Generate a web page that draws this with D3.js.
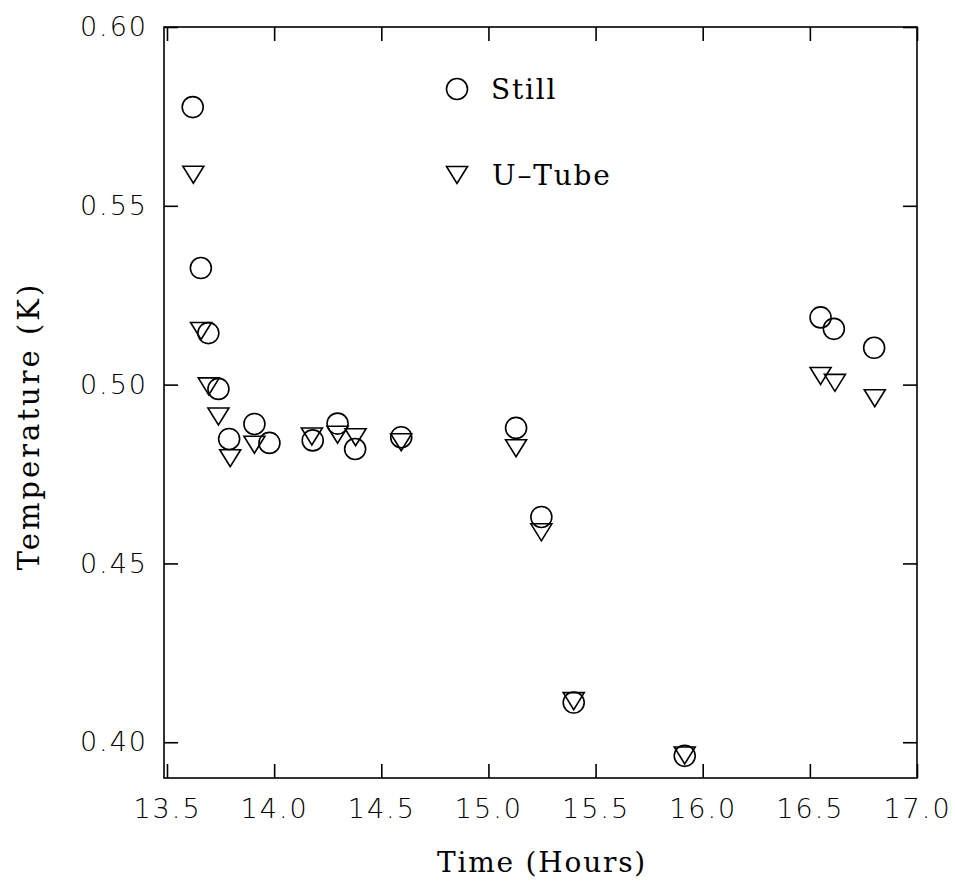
<!DOCTYPE html>
<html>
<head>
<meta charset="utf-8">
<script src="https://cdn.jsdelivr.net/npm/d3@7"></script>
<style>
  html, body { margin: 0; padding: 0; background: #fff; }
  svg { display: block; }
  .tick text { font-family: "DejaVu Sans", sans-serif; font-weight: 200; font-size: 27px; letter-spacing: 2px; fill: #000; }
  .title { font-family: "DejaVu Serif", serif; font-size: 28px; letter-spacing: 1.8px; fill: #000; }
  .ytitle { font-size: 29px; letter-spacing: 3px; }
</style>
</head>
<body>
<svg id="chart" width="955" height="884"></svg>
<script>
// ---- data ----
const stillTime = [13.62, 13.658, 13.693, 13.74, 13.79, 13.908, 13.978, 14.18, 14.296, 14.378, 14.593, 15.129, 15.247, 15.398, 15.916, 16.55, 16.612, 16.80];
const stillTemp = [0.5776, 0.5326, 0.5144, 0.4988, 0.4848, 0.4890, 0.4837, 0.4844, 0.4891, 0.4820, 0.4853, 0.4879, 0.4630, 0.4111, 0.3962, 0.5188, 0.5156, 0.5103];
const utubeTime = [13.623, 13.659, 13.695, 13.74, 13.795, 13.908, 14.176, 14.296, 14.38, 14.593, 15.129, 15.247, 15.398, 15.916, 16.55, 16.617, 16.803];
const utubeTemp = [0.5587, 0.5150, 0.4995, 0.4911, 0.4794, 0.4832, 0.4855, 0.4860, 0.4853, 0.4839, 0.4822, 0.4587, 0.4115, 0.3963, 0.5024, 0.5005, 0.4962];
const xTicks = [13.5, 14.0, 14.5, 15.0, 15.5, 16.0, 16.5, 17.0];
const yTicks = [0.40, 0.45, 0.50, 0.55, 0.60];
const seriesNames = ["Still", "U\u2013Tube"];
const xTitle = "Time (Hours)";
const yTitle = "Temperature (K)";

const svg = d3.select("#chart");
const L = 164, R = 917, T = 27, B = 778;
const x = d3.scaleLinear().domain([13.486, 17.0]).range([L, R]);
const y = d3.scaleLinear().domain([0.39, 0.60]).range([B, T]);

const TK = 14;
function styleAxis(g) {
  g.select(".domain").remove();
  g.selectAll(".tick line").attr("stroke", "#000").attr("stroke-width", 1.6);
}
svg.append("g").attr("transform", `translate(${L},0)`)
  .call(d3.axisLeft(y).tickValues(yTicks).tickFormat(d3.format(".2f")).tickSizeInner(-TK).tickSizeOuter(0).tickPadding(16))
  .call(styleAxis);
svg.append("g").attr("transform", `translate(${R},0)`)
  .call(d3.axisRight(y).tickValues(yTicks).tickFormat("").tickSizeInner(-TK).tickSizeOuter(0))
  .call(styleAxis);
svg.append("g").attr("transform", `translate(0,${B})`)
  .call(d3.axisBottom(x).tickValues(xTicks).tickFormat(d3.format(".1f")).tickSizeInner(-TK).tickSizeOuter(0).tickPadding(21))
  .call(styleAxis);
svg.append("g").attr("transform", `translate(0,${T})`)
  .call(d3.axisTop(x).tickValues(xTicks).tickFormat("").tickSizeInner(-TK).tickSizeOuter(0))
  .call(styleAxis);

// frame
svg.append("rect").attr("x", L).attr("y", T).attr("width", R - L).attr("height", B - T)
  .attr("fill", "none").attr("stroke", "#000").attr("stroke-width", 1.6);

// markers
const rC = 10.5;
const triW = 21, triH = 17;
function triPath(cx, cy) {
  return `M${cx - triW / 2},${cy - triH / 2}L${cx + triW / 2},${cy - triH / 2}L${cx},${cy + triH / 2}Z`;
}
const still = stillTime.map((t, i) => ({ t, v: stillTemp[i] }));
const utube = utubeTime.map((t, i) => ({ t, v: utubeTemp[i] }));

svg.append("g").selectAll("circle").data(still).join("circle")
  .attr("cx", d => x(d.t)).attr("cy", d => y(d.v)).attr("r", rC)
  .attr("fill", "none").attr("stroke", "#000").attr("stroke-width", 1.6);
svg.append("g").selectAll("path").data(utube).join("path")
  .attr("d", d => triPath(x(d.t), y(d.v)))
  .attr("fill", "none").attr("stroke", "#000").attr("stroke-width", 1.6).attr("stroke-linejoin", "miter");

// legend
const lg = svg.append("g");
lg.append("circle").attr("cx", 457).attr("cy", 89).attr("r", rC)
  .attr("fill", "none").attr("stroke", "#000").attr("stroke-width", 1.6);
lg.append("text").attr("class", "title").attr("x", 491).attr("y", 99).text(seriesNames[0]);
lg.append("path").attr("d", triPath(457, 175))
  .attr("fill", "none").attr("stroke", "#000").attr("stroke-width", 1.6);
lg.append("text").attr("class", "title").attr("x", 492).attr("y", 185).text(seriesNames[1]);

// axis titles
svg.append("text").attr("class", "title").attr("x", 542).attr("y", 872)
  .attr("text-anchor", "middle").text(xTitle);
svg.append("text").attr("class", "title ytitle")
  .attr("transform", `translate(39,${426}) rotate(-90)`)
  .attr("text-anchor", "middle").text(yTitle);
</script>
</body>
</html>
